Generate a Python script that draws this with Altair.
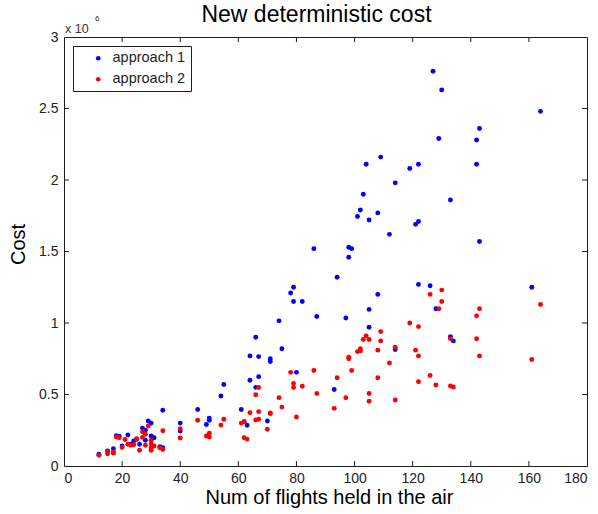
import altair as alt
import pandas as pd

FONT = "Liberation Sans"

# approach 1 (blue) : number of flights held, cost (x 10^6)
a1_flights = [127, 130, 164, 143, 129, 142, 109, 104, 119, 122, 142, 114, 103, 133, 102, 108,
              101, 105, 122, 121, 112, 143, 86, 98, 99, 98, 94, 122, 126, 161, 79, 78,
              108, 79, 82, 128, 105, 87, 97, 74, 105, 133, 134, 66, 75, 114, 64, 67,
              71, 71, 80, 67, 64, 55, 66, 93, 54, 46, 61, 34, 50, 50, 62, 70,
              49, 63, 40, 29, 30, 40, 27, 28, 22, 18, 19, 24, 25, 20, 23, 26,
              28, 30, 31, 17, 15, 12, 33, 34]
a1_cost = [2.76, 2.63, 2.48, 2.36, 2.29, 2.28, 2.16, 2.11, 2.08, 2.11, 2.11, 1.98, 1.90, 1.86, 1.79, 1.77,
           1.745, 1.72, 1.71, 1.69, 1.62, 1.57, 1.52, 1.53, 1.52, 1.46, 1.32, 1.27, 1.26, 1.25, 1.25, 1.21,
           1.20, 1.15, 1.15, 1.10, 1.095, 1.045, 1.035, 1.015, 0.97, 0.905, 0.875, 0.90, 0.82, 0.815, 0.77, 0.765,
           0.75, 0.73, 0.655, 0.625, 0.60, 0.57, 0.55, 0.535, 0.49, 0.395, 0.395, 0.39, 0.335, 0.32, 0.31, 0.315,
           0.29, 0.285, 0.30, 0.315, 0.30, 0.245, 0.265, 0.25, 0.217, 0.212, 0.208, 0.175, 0.187, 0.14, 0.152, 0.152,
           0.18, 0.21, 0.198, 0.121, 0.105, 0.082, 0.135, 0.128]

# approach 2 (red)
a2_flights = [164, 130, 126, 130, 129, 143, 142, 119, 122, 109, 104, 103, 105, 109, 133, 142,
              114, 102, 102, 101, 108, 121, 122, 143, 161, 98, 98, 112, 99, 86, 78, 126,
              94, 108, 122, 79, 128, 133, 134, 82, 79, 67, 66, 87, 97, 105, 105, 114,
              74, 75, 93, 64, 67, 71, 71, 80, 66, 67, 55, 46, 61, 62, 54, 70,
              62, 63, 49, 50, 50, 40, 40, 34, 29, 27, 28, 18, 19, 25, 21, 20,
              22, 23, 24, 30, 30, 30, 30, 28, 26, 17, 17, 15, 15, 12, 33, 34,
              31, 27]
a2_cost = [1.13, 1.23, 1.20, 1.15, 1.10, 1.10, 1.05, 1.00, 0.975, 0.94, 0.91, 0.885, 0.885, 0.875, 0.89, 0.89,
           0.83, 0.82, 0.805, 0.80, 0.81, 0.81, 0.77, 0.77, 0.745, 0.76, 0.75, 0.72, 0.668, 0.668, 0.655, 0.633,
           0.617, 0.617, 0.589, 0.577, 0.566, 0.559, 0.552, 0.558, 0.549, 0.549, 0.498, 0.507, 0.477, 0.507, 0.453, 0.462,
           0.478, 0.412, 0.403, 0.372, 0.38, 0.371, 0.366, 0.343, 0.322, 0.327, 0.327, 0.32, 0.30, 0.31, 0.286, 0.257,
           0.198, 0.188, 0.21, 0.229, 0.203, 0.26, 0.196, 0.247, 0.28, 0.24, 0.222, 0.203, 0.198, 0.191, 0.185, 0.13,
           0.152, 0.145, 0.149, 0.18, 0.156, 0.128, 0.11, 0.145, 0.11, 0.10, 0.09, 0.10, 0.085, 0.075, 0.128, 0.115,
           0.14, 0.20]

series_names = ["approach 1", "approach 2"]
series_colors = ["#0000ff", "#ff0000"]

x_ticks = [0, 20, 40, 60, 80, 100, 120, 140, 160, 180]
y_ticks = [0, 0.5, 1, 1.5, 2, 2.5, 3]
x_inner_ticks = x_ticks[1:-1]
y_inner_ticks = y_ticks[1:-1]

W, H = 523, 429
TICK = 5
INK = "#1e1e1e"

df = pd.DataFrame({
    "flights": a1_flights + a2_flights,
    "cost": a1_cost + a2_cost,
    "series": [series_names[0]] * len(a1_flights) + [series_names[1]] * len(a2_flights),
})

xscale = alt.Scale(domain=[0, 180], nice=False, zero=False)
yscale = alt.Scale(domain=[0, 3], nice=False, zero=False)

x_axis = alt.Axis(orient="bottom", values=x_ticks, format="d", title="Num of flights held in the air",
                  titleX=265, titleY=31, titleBaseline="middle", titleAlign="center")
y_axis = alt.Axis(orient="left", values=y_ticks, format="~g", title="Cost",
                  titleX=-46, titleY=207, titleBaseline="middle", titleAlign="center",
                  titleAngle=270)

points = alt.Chart(df).mark_point(filled=True, shape="circle", size=24, opacity=1).encode(
    x=alt.X("flights:Q", scale=xscale, axis=x_axis),
    y=alt.Y("cost:Q", scale=yscale, axis=y_axis),
    color=alt.Color("series:N",
                    scale=alt.Scale(domain=series_names, range=series_colors),
                    legend=alt.Legend(title=None, orient="none", legendX=9, legendY=9,
                                      strokeColor=INK, fillColor="white", padding=5,
                                      symbolOffset=13, labelOffset=7, symbolSize=22,
                                      symbolType="circle", labelFontSize=14.5, labelFont=FONT,
                                      labelColor=INK, rowPadding=6)),
    order=alt.Order("series:N"),
)

xt = pd.DataFrame({"flights": x_inner_ticks})
yt = pd.DataFrame({"cost": y_inner_ticks})

bottom_ticks = alt.Chart(xt).mark_rule(color=INK, strokeWidth=1).encode(
    x=alt.X("flights:Q", scale=xscale, axis=x_axis), y=alt.value(H), y2=alt.value(H - TICK))
top_ticks = alt.Chart(xt).mark_rule(color=INK, strokeWidth=1).encode(
    x=alt.X("flights:Q", scale=xscale, axis=x_axis), y=alt.value(0), y2=alt.value(TICK))
left_ticks = alt.Chart(yt).mark_rule(color=INK, strokeWidth=1).encode(
    y=alt.Y("cost:Q", scale=yscale, axis=y_axis), x=alt.value(0), x2=alt.value(TICK))
right_ticks = alt.Chart(yt).mark_rule(color=INK, strokeWidth=1).encode(
    y=alt.Y("cost:Q", scale=yscale, axis=y_axis), x=alt.value(W), x2=alt.value(W - TICK))

exp_df = pd.DataFrame({"base": ["x 10"], "exp": ["6"]})
exp_base = alt.Chart(exp_df).mark_text(align="left", baseline="alphabetic", fontSize=12.5,
                                       font=FONT, color="#333").encode(
    text="base:N", x=alt.value(1), y=alt.value(-4))
exp_pow = alt.Chart(exp_df).mark_text(align="left", baseline="alphabetic", fontSize=8,
                                      font=FONT, color="#333").encode(
    text="exp:N", x=alt.value(31), y=alt.value(-16))

chart = alt.layer(points, bottom_ticks, top_ticks, left_ticks, right_ticks, exp_base, exp_pow).properties(
    width=W, height=H,
    title=alt.TitleParams("New deterministic cost", fontSize=23, font=FONT, fontWeight="normal",
                          color="black", anchor="middle", frame="group", offset=-12, dx=-9),
    padding={"left": 64, "top": 37, "right": 11, "bottom": 48},
    autosize=alt.AutoSizeParams(type="none"),
).configure_view(
    stroke=INK, strokeWidth=1
).configure_axis(
    domain=False, ticks=False, grid=False,
    labelFont=FONT, labelFontSize=14, labelColor="#222", labelPadding=5,
    titleFont=FONT, titleFontSize=20, titleFontWeight="normal", titleColor="black",
).configure_axisY(
    labelPadding=6
)

chart.save("out.html", embed_options={"renderer": "svg", "actions": False})
